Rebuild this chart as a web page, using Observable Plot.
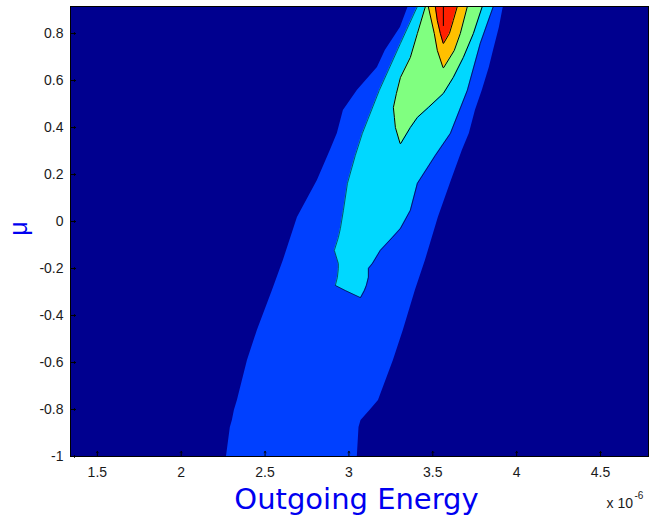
<!DOCTYPE html>
<html>
<head>
<meta charset="utf-8">
<script src="https://cdn.jsdelivr.net/npm/d3@7"></script>
<script src="https://cdn.jsdelivr.net/npm/@observablehq/plot@0.6"></script>
<style>
  html, body { margin: 0; padding: 0; background: #ffffff; }
  #chart { width: 650px; height: 520px; }
</style>
</head>
<body>
<div id="chart"></div>
<script>
// Axis ticks (x in units of 1e-6)
const xTicks = [1.5, 2, 2.5, 3, 3.5, 4, 4.5];
const yTicks = [-1, -0.8, -0.6, -0.4, -0.2, 0, 0.2, 0.4, 0.6, 0.8];

// Contour band boundaries: for each filled level,
// mu values with left / right outgoing-energy edges of the band.
const level1Mu    = [-1.000, -0.877, -0.847, -0.804, -0.762, -0.591, -0.464, -0.294, -0.166, 0.017, 0.175, 0.302, 0.375, 0.472, 0.558, 0.655, 0.728, 0.826, 0.915];
const level1Left  = [ 2.270,  2.293,  2.305,  2.317,  2.335,  2.395,  2.454,  2.544,  2.609, 2.693, 2.812, 2.889, 2.931, 2.967, 3.050, 3.170, 3.217, 3.307, 3.354];
const level1Right = [ 3.050,  3.060,  3.072,  3.125,  3.176,  3.265,  3.324,  3.396,  3.456, 3.533, 3.611, 3.676, 3.718, 3.754, 3.795, 3.837, 3.862, 3.897, 3.921];

const level2Mu    = [-0.323, -0.294, -0.272, -0.238, -0.200, -0.179, -0.123, -0.068, -0.030, 0.047, 0.162, 0.281, 0.375, 0.558, 0.758, 0.915];
const level2Left  = [ 3.066,  2.979,  2.919,  2.931,  2.937,  2.937,  2.913,  2.937,  2.949, 2.967, 2.991, 3.038, 3.080, 3.181, 3.307, 3.408];
const level2Right = [ 3.070,  3.092,  3.104,  3.116,  3.116,  3.140,  3.187,  3.259,  3.307, 3.366, 3.408, 3.515, 3.605, 3.706, 3.783, 3.861];

const level3Mu    = [0.332, 0.400, 0.443, 0.485, 0.545, 0.613, 0.698, 0.800, 0.915];
const level3Left  = [3.305, 3.277, 3.271, 3.265, 3.283, 3.307, 3.366, 3.408, 3.456];
const level3Right = [3.309, 3.366, 3.408, 3.473, 3.563, 3.622, 3.682, 3.742, 3.795];

const level4Mu    = [0.655, 0.728, 0.800, 0.915];
const level4Left  = [3.561, 3.527, 3.509, 3.473];
const level4Right = [3.565, 3.628, 3.664, 3.706];

const level5Mu    = [0.758, 0.800, 0.855, 0.915];
const level5Left  = [3.562, 3.545, 3.527, 3.515];
const level5Right = [3.564, 3.599, 3.622, 3.646];

// thin peak contour inside the top band
const peakMu = [0.834, 0.915];
const peakE  = [3.563, 3.563];

const bandColors = ["#00008F", "#0040FF", "#00D8FF", "#80FF80", "#FFC000", "#FF2000"];

function band(mu, l, r) { return mu.map((m, i) => ({y: m, l: l[i], r: r[i]})); }
function outline(mu, l, r) {
  const pts = [];
  for (let i = mu.length - 1; i >= 0; i--) pts.push({x: l[i], y: mu[i]});
  for (let i = 0; i < mu.length; i++) pts.push({x: r[i], y: mu[i]});
  return pts;
}

const levels = [
  [level1Mu, level1Left, level1Right],
  [level2Mu, level2Left, level2Right],
  [level3Mu, level3Left, level3Right],
  [level4Mu, level4Left, level4Right],
  [level5Mu, level5Left, level5Right]
];

const marks = [Plot.frame({fill: bandColors[0]})];
levels.forEach((lv, k) => {
  marks.push(Plot.areaX(band(...lv), {y: "y", x1: "l", x2: "r", fill: bandColors[k + 1], curve: "linear"}));
});
levels.forEach((lv, k) => {
  if (k === 0) return;
  marks.push(Plot.line(outline(...lv), {x: "x", y: "y", stroke: "#000", strokeWidth: k === 1 ? 0.8 : 1, strokeOpacity: k === 1 ? 0.75 : 1, curve: "linear"}));
});
marks.push(Plot.line(peakMu.map((m, i) => ({x: peakE[i], y: m})), {x: "x", y: "y", stroke: "#000", strokeWidth: 1}));

marks.push(
  Plot.vector(xTicks, {x: d => d, frameAnchor: "bottom", length: 5, rotate: 0, anchor: "start", stroke: "#000", strokeWidth: 1}),
  Plot.vector(yTicks, {y: d => d, frameAnchor: "left", length: 5, rotate: 90, anchor: "start", stroke: "#000", strokeWidth: 1}),
  Plot.frame({stroke: "#000", strokeWidth: 1}),
  Plot.axisX(xTicks, {tickSize: 0, tickPadding: 11, label: null, tickFormat: d => String(d), fontSize: 14, fill: "#1a1a1a"}),
  Plot.axisY(yTicks, {tickSize: 0, tickPadding: 7, label: null, tickFormat: d => String(d), fontSize: 14, fill: "#1a1a1a"}),
  Plot.text(["Outgoing Energy"], {frameAnchor: "bottom", lineAnchor: "middle", dy: 43, dx: -3, fill: "#0000F0", fontSize: 29, fontFamily: "'DejaVu Sans', sans-serif"}),
  Plot.text(["x 10"], {frameAnchor: "bottom-right", textAnchor: "start", lineAnchor: "middle", dx: -42, dy: 47, fill: "#1a1a1a", fontSize: 14}),
  Plot.text(["-6"], {frameAnchor: "bottom-right", textAnchor: "start", lineAnchor: "middle", dx: -14, dy: 39, fill: "#1a1a1a", fontSize: 10}),
  Plot.text(["μ"], {frameAnchor: "left", lineAnchor: "middle", textAnchor: "middle", dx: -52, dy: -3, rotate: -90, fill: "#0000F0", fontSize: 25})
);

const chart = Plot.plot({
  width: 650,
  height: 520,
  marginLeft: 70,
  marginRight: 2,
  marginTop: 6,
  marginBottom: 64,
  x: {domain: [1.34, 4.786]},
  y: {domain: [-1, 0.915]},
  style: {fontFamily: "'Liberation Sans', Arial, sans-serif", fontSize: "14px", background: "#ffffff", color: "#1a1a1a"},
  marks
});
document.getElementById("chart").appendChild(chart);
</script>
</body>
</html>
